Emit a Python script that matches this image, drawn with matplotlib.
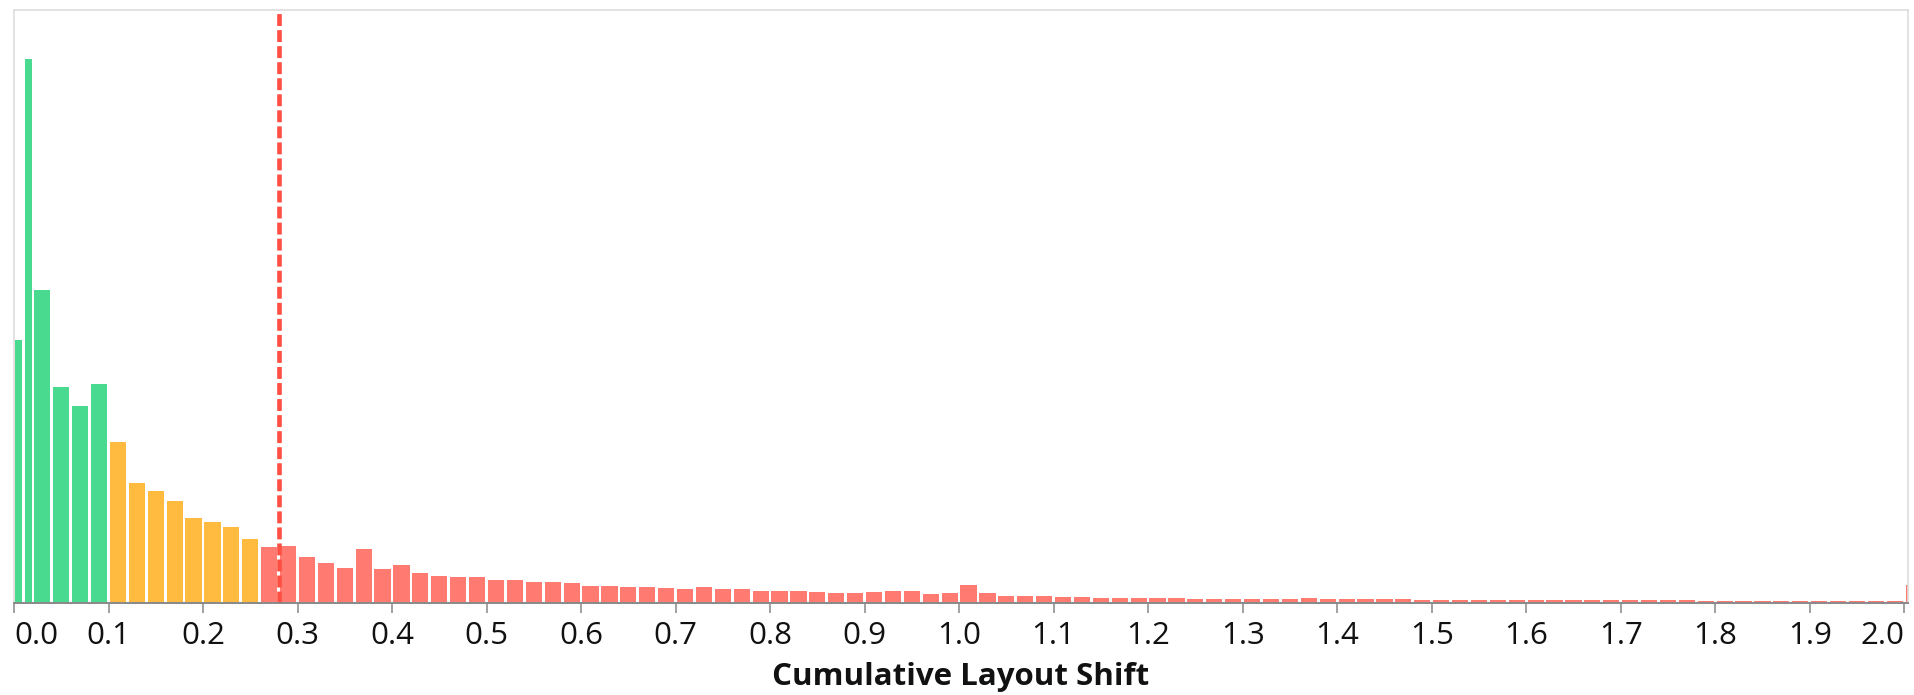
import numpy as np
import matplotlib
matplotlib.use("Agg")
import matplotlib.pyplot as plt

plt.rcParams['font.family'] = ['Open Sans', 'DejaVu Sans']

# CLS histogram: first two bins are 0.01 wide, then 0.02 wide up to the >= 2.0 overflow bin
bin_lefts = [0.00, 0.01] + [round(0.02 * i, 2) for i in range(1, 101)]
bin_widths = [0.01, 0.01] + [0.02] * 100

# share of page loads per bin (%)
share = [
    2.62, 5.43, 3.12, 2.15, 1.96, 2.18,                          # 0.00 - 0.10
    1.60, 1.19, 1.11, 1.005, 0.837, 0.797, 0.753, 0.63,          # 0.10 - 0.26
    0.552, 0.56, 0.445, 0.392, 0.343, 0.527, 0.333, 0.37,        # 0.26 - 0.42
    0.287, 0.263, 0.253, 0.253, 0.22, 0.217, 0.20, 0.20,         # 0.42 - 0.58
    0.193, 0.16, 0.16, 0.153, 0.153, 0.143, 0.133, 0.153,        # 0.58 - 0.74
    0.127, 0.127, 0.113, 0.107, 0.107, 0.097, 0.093, 0.093,      # 0.74 - 0.90
    0.103, 0.113, 0.107, 0.083, 0.093, 0.167, 0.093, 0.063,      # 0.90 - 1.06
    0.060, 0.057, 0.047, 0.047, 0.043, 0.040, 0.040, 0.037,      # 1.06 - 1.22
    0.037, 0.030, 0.030, 0.030, 0.030, 0.033, 0.033, 0.040,      # 1.22 - 1.38
    0.027, 0.027, 0.027, 0.025, 0.025, 0.023, 0.023, 0.020,      # 1.38 - 1.54
    0.020, 0.020, 0.020, 0.018, 0.018, 0.017, 0.017, 0.016,      # 1.54 - 1.70
    0.015, 0.015, 0.014, 0.014, 0.013, 0.013, 0.012, 0.012,      # 1.70 - 1.86
    0.011, 0.011, 0.010, 0.010, 0.010, 0.009, 0.009,             # 1.86 - 2.00
    0.167,                                                       # >= 2.00
]

p75 = 0.28
thresholds = [0.1, 0.25]
rating_colors = ['#0cce6b', '#ffa400', '#ff4e42']  # good / needs improvement / poor
tick_values = [round(0.1 * i, 1) for i in range(21)]

lefts = np.array(bin_lefts)
widths = np.array(bin_widths)
colors = [rating_colors[int(np.searchsorted(thresholds, x, side='right'))] for x in lefts]

fig = plt.figure(figsize=(19.15, 6.95), dpi=100)
ax = fig.add_axes([14 / 1915, 1 - 603 / 695, 1894 / 1915, 593 / 695])

x_max = 2.004
gap = 2.7 / (1894 / x_max)  # small white gap between bars
ax.bar(lefts + gap / 2, share, width=widths - gap, align='edge',
       color=colors, alpha=0.75, linewidth=0)

ax.axvline(p75, color='#ff4e42', lw=3.3, linestyle=(0, (2.6, 0.9)))

ax.set_xlim(0, x_max)
ax.set_ylim(-0.012, 5.92)  # keep the axis line just under the bars
ax.set_yticks([])

for side in ['top', 'left', 'right']:
    ax.spines[side].set_color('#dddddd')
    ax.spines[side].set_linewidth(1.2)
ax.spines['bottom'].set_color('#888888')
ax.spines['bottom'].set_linewidth(1.4)

ax.set_xticks(tick_values)
ax.set_xticklabels([f"{t:.1f}" for t in tick_values])
ax.tick_params(axis='x', length=7, width=1.1, color='#888888',
               labelsize=22.5, labelcolor='#111111', pad=6)
labels = ax.get_xticklabels()
labels[0].set_ha('left')
labels[-1].set_ha('right')

ax.set_xlabel('Cumulative Layout Shift', fontsize=22.5, fontweight='bold',
              color='#111111', labelpad=8)

fig.savefig('out.png', dpi=100)
